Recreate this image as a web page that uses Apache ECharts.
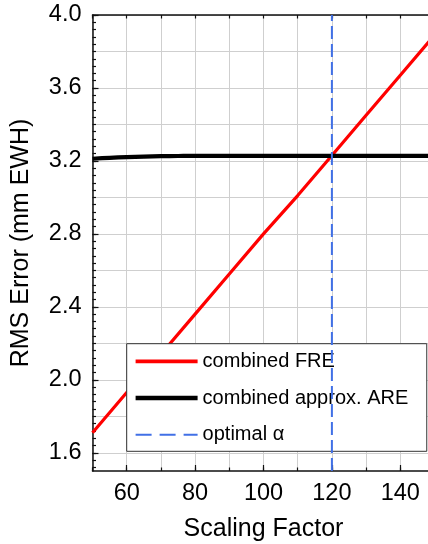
<!DOCTYPE html>
<html>
<head>
<meta charset="utf-8">
<script src="https://cdn.jsdelivr.net/npm/echarts@6/dist/echarts.min.js"></script>
<style>
  html, body { margin: 0; padding: 0; background: #fff; }
  #chart { width: 428px; height: 544px; }
</style>
</head>
<body>
<div id="chart"></div>
<script>
// Scaling factor samples
const scaling = [50, 60, 70, 80, 90, 100, 110, 120, 130, 140, 150];
// Combined FRE (mm EWH)
const combinedFRE = [1.71, 1.93, 2.14, 2.36, 2.58, 2.80, 3.01, 3.23, 3.45, 3.67, 3.89];
// Combined approximate ARE (mm EWH), denser sampling where it bends
const areScaling = [50, 55, 60, 65, 70, 75, 80, 90, 100, 110, 120, 130, 140, 150];
const combinedARE = [3.212, 3.217, 3.221, 3.224, 3.226, 3.227, 3.228, 3.228, 3.228, 3.228, 3.228, 3.228, 3.228, 3.228];
// Optimal scaling factor
const optimalAlpha = 120;

// Axis ranges and labelled ticks
const xRange = [50, 150];
const yRange = [1.5, 4.0];
const xTickLabels = [60, 80, 100, 120, 140];
const yTickLabels = [1.6, 2.0, 2.4, 2.8, 3.2, 3.6, 4.0];

const seriesNames = ['combined FRE', 'combined approx. ARE', 'optimal \u03b1'];

// Derived tick sets: minor y ticks every 0.04, y grid every 0.2
const yMinor = [];
for (let k = 38; k <= 100; k++) yMinor.push(+(k * 0.04).toFixed(2));
const yGrid = [];
for (let k = 8; k <= 20; k++) yGrid.push(+(k * 0.2).toFixed(1));

const FONT = '"Liberation Sans", Arial, sans-serif';
const chart = echarts.init(document.getElementById('chart'), null, { renderer: 'canvas' });

const baseY = {
  type: 'value', position: 'left', min: yRange[0], max: yRange[1],
  axisLine: { show: false, onZero: false },
  axisLabel: { show: false },
  axisTick: { show: false },
  splitLine: { show: false }
};
const baseX = {
  type: 'value', position: 'bottom', min: xRange[0], max: xRange[1],
  axisLine: { show: false, onZero: false },
  axisLabel: { show: false },
  axisTick: { show: false },
  splitLine: { show: false }
};

chart.setOption({
  animation: false,
  backgroundColor: '#fff',
  textStyle: { fontFamily: FONT },
  grid: { left: 92.5, right: -6.5, top: 15, bottom: 73, containLabel: false, outerBoundsMode: 'none' },
  xAxis: [
    Object.assign({}, baseX, {
      name: 'Scaling Factor', nameLocation: 'middle', nameGap: 46,
      nameTextStyle: { fontSize: 25, color: '#000', fontFamily: FONT },
      axisLine: { show: true, onZero: false, lineStyle: { color: '#111', width: 1.5 } },
      axisTick: { show: true, inside: true, length: 6, customValues: xTickLabels, lineStyle: { color: '#111', width: 1.2 } },
      axisLabel: { show: true, customValues: xTickLabels, margin: 11, fontSize: 23.5, color: '#000', fontFamily: FONT }
    }),
    Object.assign({}, baseX, {
      interval: 10,
      axisTick: { show: true, inside: true, length: 3.5, lineStyle: { color: '#111', width: 1.2 } },
      splitLine: { show: true, lineStyle: { color: '#cfcfcf', width: 1 } }
    }),
    Object.assign({}, baseX, {
      position: 'top', interval: 10,
      axisLine: { show: true, onZero: false, lineStyle: { color: '#111', width: 1.5 } },
      axisTick: { show: true, inside: true, length: 3.5, lineStyle: { color: '#111', width: 1.2 } }
    })
  ],
  yAxis: [
    Object.assign({}, baseY, {
      name: 'RMS Error (mm EWH)', nameLocation: 'middle', nameGap: 59,
      nameTextStyle: { fontSize: 25, color: '#000', fontFamily: FONT },
      axisLine: { show: true, onZero: false, lineStyle: { color: '#111', width: 1.5 } },
      axisTick: { show: true, inside: true, length: 6, customValues: yTickLabels, lineStyle: { color: '#111', width: 1.2 } },
      axisLabel: { show: true, customValues: yTickLabels, margin: 11, fontSize: 23.5, color: '#000', fontFamily: FONT,
        formatter: v => Number(v).toFixed(1) }
    }),
    Object.assign({}, baseY, {
      axisTick: { show: true, inside: true, length: 3.5, customValues: yMinor, lineStyle: { color: '#111', width: 1.2 } }
    }),
    Object.assign({}, baseY, {
      axisTick: { show: false, customValues: yGrid },
      splitLine: { show: true, lineStyle: { color: '#cfcfcf', width: 1 } }
    })
  ],
  legend: {
    orient: 'vertical', left: 126.7, top: 343.7,
    itemWidth: 62, itemHeight: 20, itemGap: 16.7,
    padding: [7.6, 18.5, 6.6, 6.6],
    backgroundColor: '#fff', borderColor: '#333', borderWidth: 1, borderRadius: 0,
    itemStyle: { opacity: 0 },
    textStyle: { fontSize: 20, lineHeight: 20, color: '#000', fontFamily: FONT },
    selectedMode: false,
    data: [
      { name: seriesNames[0], lineStyle: { width: 3.8 } },
      { name: seriesNames[1], lineStyle: { width: 4.6 } },
      { name: seriesNames[2], lineStyle: { width: 2, type: [16, 8] } }
    ]
  },
  series: [
    {
      name: seriesNames[0], type: 'line', xAxisIndex: 0, yAxisIndex: 0,
      data: scaling.map((x, i) => [x, combinedFRE[i]]),
      symbol: 'none', z: 3,
      lineStyle: { color: '#ff0000', width: 3.2 }, itemStyle: { color: '#ff0000' }
    },
    {
      name: seriesNames[1], type: 'line', xAxisIndex: 0, yAxisIndex: 0,
      data: areScaling.map((x, i) => [x, combinedARE[i]]),
      symbol: 'none', smooth: 0.3, z: 4,
      lineStyle: { color: '#000', width: 4.2 }, itemStyle: { color: '#000' }
    },
    {
      name: seriesNames[2], type: 'line', xAxisIndex: 0, yAxisIndex: 0,
      data: [[optimalAlpha, yRange[0]], [optimalAlpha, yRange[1]]],
      symbol: 'none', z: 5,
      lineStyle: { color: '#4170e6', width: 2, type: [13, 5] }, itemStyle: { color: '#4170e6' }
    }
  ]
});
</script>
</body>
</html>
